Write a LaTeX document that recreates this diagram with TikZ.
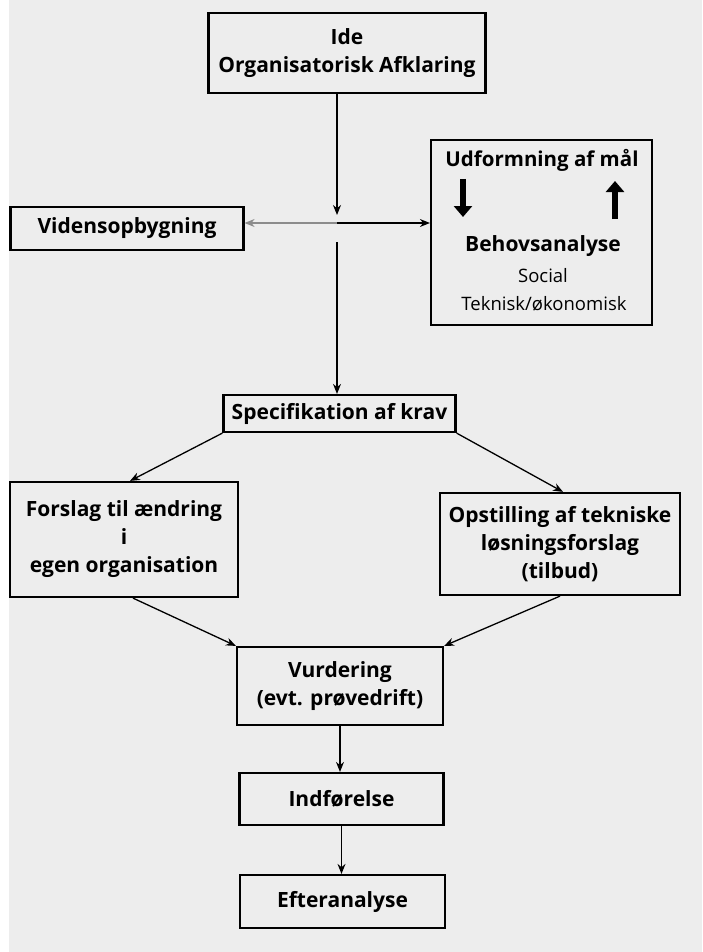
\documentclass[tikz,border=0pt]{standalone}
\usepackage{fontspec}
\setmainfont{Open Sans}
\usetikzlibrary{arrows.meta}
\begin{document}
\begin{tikzpicture}[x=1pt,y=-1pt,
    boks/.style={draw, line width=2.2pt, inner sep=0pt, align=center,
      font=\bfseries\fontsize{21}{28}\selectfont},
    pil/.style={line width=1.3pt, -{Stealth[length=10pt,width=8pt]}},
    blokpil/.style={line width=6pt, -{Triangle[length=11pt,width=18pt]}},
    tekst/.style={inner sep=0pt, align=center}]
  \useasboundingbox (0,0) rectangle (702,952);
  \fill[white] (0,0) rectangle (702,952);
  \fill[black!7] (9,0) rectangle (702,952);
  % boxes
  \node[boks, minimum width=277, minimum height=80] (ide) at (347,53) {Ide\\Organisatorisk Afklaring};
  \node[boks, minimum width=233, minimum height=43] (viden) at (127,228.5) {Vidensopbygning};
  \node[boks, minimum width=221, minimum height=185] (behov) at (541.5,232.5) {};
  \node[boks, minimum width=232, minimum height=37] (spec) at (339.5,413.5) {Specifikation af krav};
  \node[boks, minimum width=228, minimum height=115] (forslag) at (124,539.5) {Forslag til ændring\\i\\egen organisation};
  \node[boks, minimum width=240, minimum height=102] (opst) at (560,544) {Opstilling af tekniske\\løsningsforslag\\(tilbud)};
  \node[boks, minimum width=206, minimum height=78] (vurd) at (340,686) {Vurdering\\(evt. prøvedrift)};
  \node[boks, minimum width=204, minimum height=52] (indf) at (341.5,799) {Indførelse};
  \node[boks, minimum width=205, minimum height=53] (efter) at (342.5,901.5) {Efteranalyse};
  % inside the right box
  \node[tekst, font=\bfseries\fontsize{20.5}{24}\selectfont] (udf) at (542,160) {Udformning af mål};
  \node[tekst, font=\bfseries\fontsize{21}{24}\selectfont] (beh) at (543,246) {Behovsanalyse};
  \node[tekst, font=\fontsize{18.5}{21}\selectfont] (soc) at (543,276) {Social};
  \node[tekst, font=\fontsize{18.5}{21}\selectfont] (tek) at (544,304) {Teknisk/økonomisk};
  \coordinate (ned1) at (463,179);
  \coordinate (ned2) at (463,217);
  \coordinate (op1) at (615,219);
  \coordinate (op2) at (615,181);
  \draw[blokpil] (ned1) -- (ned2);
  \draw[blokpil] (op1) -- (op2);
  % connectors
  \coordinate (knude) at (337,223);
  \coordinate (stop) at (337,215);
  \coordinate (start) at (337,242);
  \draw[pil] (ide.south -| knude) -- (stop);
  \draw[pil, black!45] (knude) -- (viden.east |- knude);
  \draw[pil] (knude) -- (behov.west |- knude);
  \draw[pil] (start) -- (spec.north -| start);
  \draw[pil] (spec.south west) -- (forslag.north -| 130,0);
  \draw[pil] (spec.south east) -- (opst.north -| 563,0);
  \draw[pil] (forslag.south -| 133,0) -- (vurd.north west);
  \draw[pil] (opst.south -| 560,0) -- (vurd.north east);
  \draw[pil] (vurd.south) -- (vurd.south |- indf.north);
  \draw[pil] (indf.south) -- (indf.south |- efter.north);
\end{tikzpicture}
\end{document}
